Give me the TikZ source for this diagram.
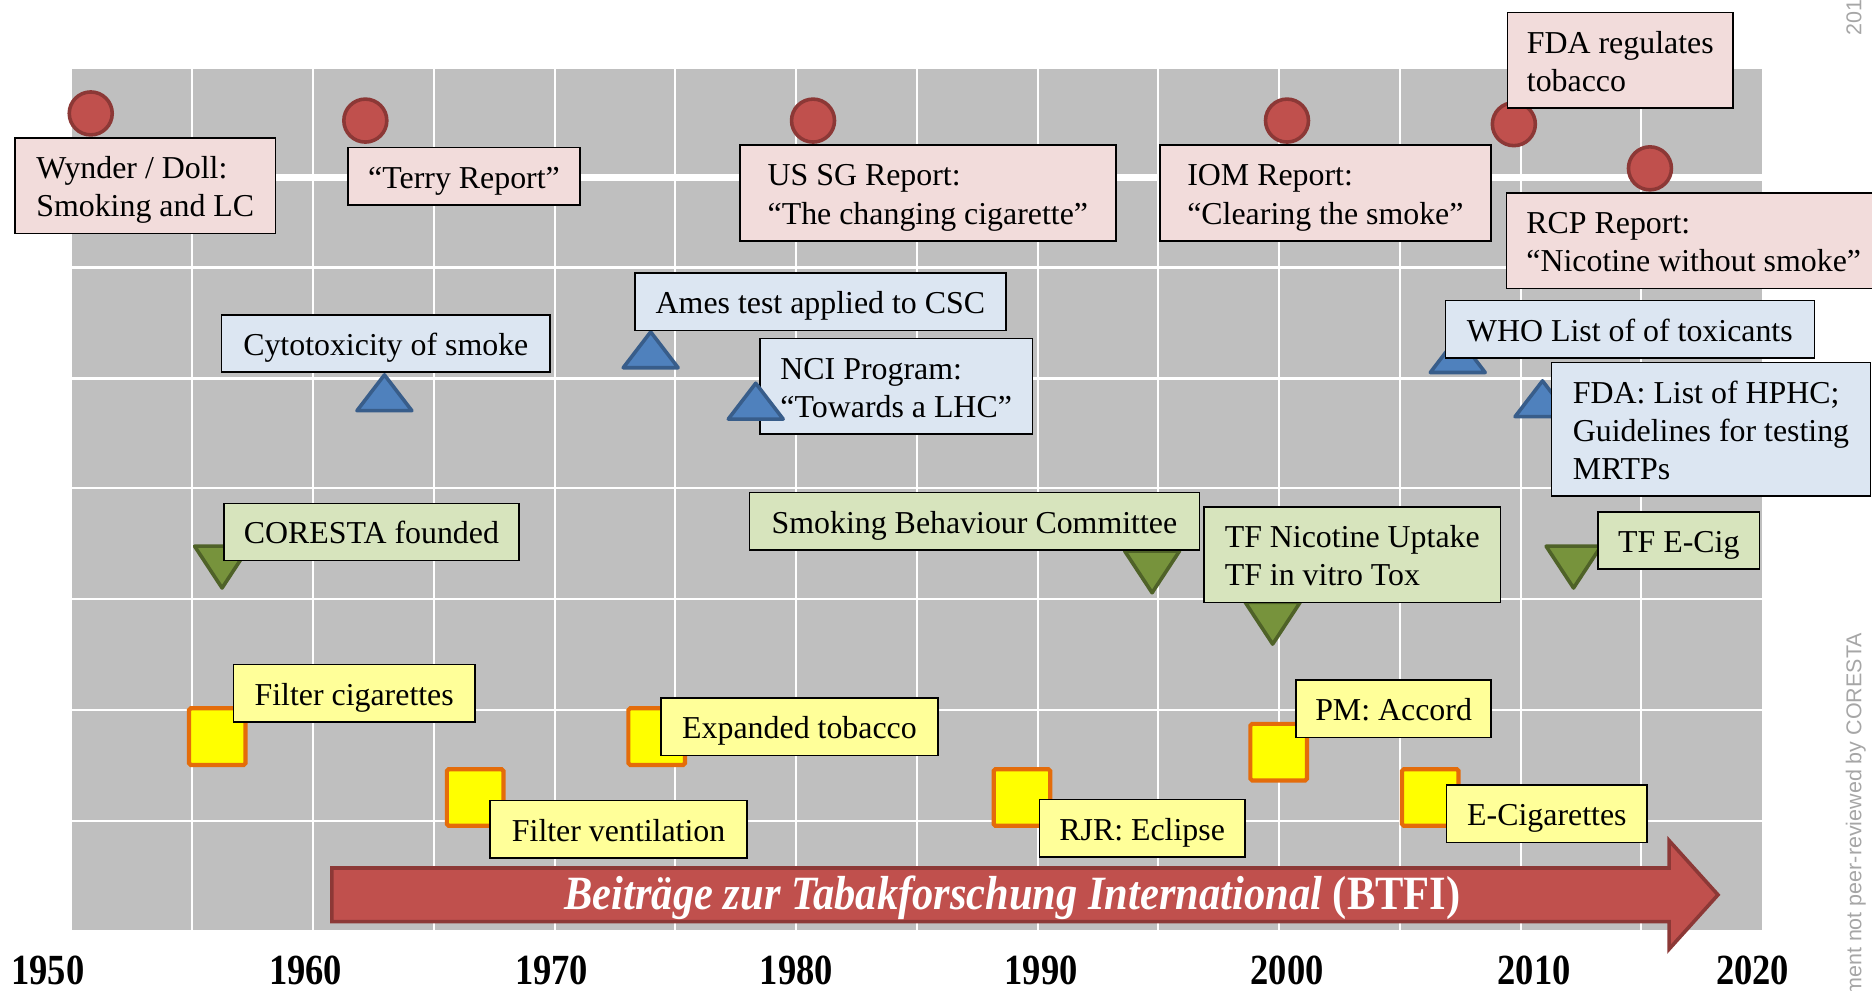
\documentclass[tikz,border=0pt]{standalone}
\usepackage{graphicx}
\usepackage{fontspec}
\setmainfont{Liberation Serif}
\newfontfamily\notefont{Liberation Sans}
\definecolor{panelgray}{HTML}{BFBFBF}
\definecolor{pinkfill}{HTML}{F2DCDB}
\definecolor{bluefill}{HTML}{DCE6F2}
\definecolor{greenfill}{HTML}{D7E4BD}
\definecolor{yellowfill}{HTML}{FFFF99}
\definecolor{redfill}{HTML}{C0504D}
\definecolor{reddraw}{HTML}{8C3836}
\definecolor{bluetrifill}{HTML}{4F81BD}
\definecolor{bluetridraw}{HTML}{385D8A}
\definecolor{greentrifill}{HTML}{77933C}
\definecolor{greentridraw}{HTML}{4F6228}
\definecolor{sqfill}{HTML}{FFFF00}
\definecolor{sqdraw}{HTML}{E46C0A}
\definecolor{notegray}{HTML}{A6A6A6}
\newcommand\bxs{\rule[-6pt]{0pt}{32pt}}
\tikzset{
  evbox/.style={draw=black, line width=1.3pt, inner xsep=16pt, inner ysep=8pt,
    anchor=north west, align=left, font=\fontsize{26.7}{32}\selectfont},
  pinkbox/.style={evbox, fill=pinkfill},
  bluebox/.style={evbox, fill=bluefill},
  greenbox/.style={evbox, fill=greenfill},
  yellowbox/.style={evbox, fill=yellowfill},
  gridline/.style={white, line width=1.8pt},
  circmark/.style={draw=reddraw, fill=redfill, line width=3pt},
  btrimark/.style={draw=bluetridraw, fill=bluetrifill, line width=3pt, line join=round},
  gtrimark/.style={draw=greentridraw, fill=greentrifill, line width=3pt, line join=round},
  sqmark/.style={draw=sqdraw, fill=sqfill, line width=3.5pt, rounded corners=1.5pt},
  yearlabel/.style={font=\fontsize{36}{40}\selectfont\bfseries, anchor=base, inner sep=0pt},
  notetext/.style={font=\notefont\fontsize{18}{20}\selectfont, text=notegray, rotate=90, inner sep=0pt},
}
\newcommand\mkCirc[2]{\draw[circmark] (#1,#2) circle[radius=18];}
\newcommand\mkBtri[2]{\draw[btrimark, shift={(#1,#2)}] (-23,15) -- (0,-15) -- (23,15) -- cycle;}
\newcommand\mkGtri[2]{\draw[gtrimark, shift={(#1,#2)}] (-23,-17.5) -- (23,-17.5) -- (0,17.5) -- cycle;}
\newcommand\mkSq[2]{\draw[sqmark, shift={(#1,#2)}] (-23.7,-23.7) rectangle (23.7,23.7);}
\begin{document}
\begin{tikzpicture}[x=1pt, y=-1pt]
\useasboundingbox (0,0) rectangle (1568,830);
% panel and grid
\fill[panelgray] (60,58) rectangle (1476,779);
\foreach \i in {1,...,13} \draw[gridline] ({60+101.14*\i},58) -- ({60+101.14*\i},779);
\foreach \yy in {224,317,409,502,595,688} \draw[gridline] (60,\yy) -- (1476,\yy);
\draw[white, line width=6pt] (60,149) -- (1476,149);

% BTFI arrow
\draw[reddraw, fill=redfill, line width=3pt, line join=miter]
  (278,727) -- (1398,727) -- (1398,704) -- (1439,749.5) -- (1398,795) -- (1398,772) -- (278,772) -- cycle;
\node[anchor=base, inner sep=0pt, text=white] (btfi) at (848,762)
  {\scalebox{0.89}[1]{\fontsize{40}{44}\selectfont\bfseries\itshape Beiträge zur Tabakforschung International \upshape(BTFI)}};

% markers
\mkCirc{76}{95}
\mkCirc{306}{101}
\mkCirc{681}{101}
\mkCirc{1078}{101}
\mkCirc{1268}{104}
\mkCirc{1382}{141}

\mkBtri{322}{329}
\mkBtri{545}{293}
\mkBtri{1221}{297}
\mkBtri{1292}{334}

\mkGtri{186}{475}
\mkGtri{965}{479}
\mkGtri{1066}{522}
\mkGtri{1318}{475}

\mkSq{182}{617}
\mkSq{398}{668}
\mkSq{550}{617}
\mkSq{856}{668}
\mkSq{1071}{630}
\mkSq{1198}{668}

% pink boxes
\node[pinkbox, minimum width=218pt, minimum height=80pt] (wynder) at (12,115) {\bxs Wynder / Doll:\\\bxs Smoking and LC};
\node[pinkbox, minimum width=194pt, minimum height=48pt] (terry) at (291,123) {\bxs “Terry Report”};
\node[pinkbox, minimum width=315pt, minimum height=80pt] (ussg) at (619,121) {\bxs US SG Report:\\\bxs “The changing cigarette”};
\node[pinkbox, minimum width=277pt, minimum height=80pt] (iom) at (971,121) {\bxs IOM Report:\\\bxs “Clearing the smoke”};
\node[pinkbox, minimum width=189pt, minimum height=80pt] (fdareg) at (1262,10) {\bxs FDA regulates\\\bxs tobacco};
\node[pinkbox, minimum width=314pt, minimum height=80pt] (rcp) at (1261,161) {\bxs RCP Report:\\\bxs “Nicotine without smoke”};

% blue boxes
\node[bluebox, minimum width=275pt, minimum height=48pt] (cyto) at (185,263) {\bxs Cytotoxicity of smoke};
\node[bluebox, minimum width=311pt, minimum height=47pt] (ames) at (531,228) {\bxs Ames test applied to CSC};
\node[bluebox, minimum width=228pt, minimum height=80pt] (nci) at (636,283) {\bxs NCI Program:\\\bxs “Towards a LHC”};
\node[bluebox, minimum width=309pt, minimum height=47pt] (who) at (1210,251) {\bxs WHO List of of toxicants};
\node[bluebox, minimum width=267pt, minimum height=112pt] (fdalist) at (1299,303) {\bxs FDA: List of HPHC;\\\bxs Guidelines for testing\\\bxs MRTPs};

% green boxes
\node[greenbox, minimum width=247pt, minimum height=47pt] (coresta) at (187,421) {\bxs CORESTA founded};
\node[greenbox, minimum width=377pt, minimum height=48pt] (sbc) at (627,412) {\bxs Smoking Behaviour Committee};
\node[greenbox, minimum width=248pt, minimum height=79pt] (tf) at (1008,424) {\bxs TF Nicotine Uptake\\\bxs TF in vitro Tox};
\node[greenbox, minimum width=135pt, minimum height=48pt] (tfecig) at (1338,428) {\bxs TF E-Cig};

% yellow boxes
\node[yellowbox, minimum width=202pt, minimum height=47pt] (filtcig) at (195,556) {\bxs Filter cigarettes};
\node[yellowbox, minimum width=215pt, minimum height=47pt] (filtvent) at (410,670) {\bxs Filter ventilation};
\node[yellowbox, minimum width=232pt, minimum height=47pt] (exptob) at (553,584) {\bxs Expanded tobacco};
\node[yellowbox, minimum width=172pt, minimum height=47pt] (rjr) at (870,669) {\bxs RJR: Eclipse};
\node[yellowbox, minimum width=163pt, minimum height=48pt] (pm) at (1085,569) {\bxs PM: Accord};
\node[yellowbox, minimum width=168pt, minimum height=48pt] (ecig) at (1211,657) {\bxs E-Cigarettes};

% triangle drawn over the NCI box
\mkBtri{633}{336}

% year axis
\node[yearlabel] (y1950) at (40,825) {\scalebox{0.85}[1]{1950}};
\node[yearlabel] (y1960) at (256,825) {\scalebox{0.85}[1]{1960}};
\node[yearlabel] (y1970) at (462,825) {\scalebox{0.85}[1]{1970}};
\node[yearlabel] (y1980) at (667,825) {\scalebox{0.85}[1]{1980}};
\node[yearlabel] (y1990) at (872,825) {\scalebox{0.85}[1]{1990}};
\node[yearlabel] (y2000) at (1078,825) {\scalebox{0.85}[1]{2000}};
\node[yearlabel] (y2010) at (1285,825) {\scalebox{0.85}[1]{2010}};
\node[yearlabel] (y2020) at (1468,825) {\scalebox{0.85}[1]{2020}};

% side notes
\node[notetext, anchor=base east] (note) at (1559,530) {ment not peer-reviewed by CORESTA};
\node[notetext, anchor=base west] (noteyear) at (1559,30) {201};
\end{tikzpicture}
\end{document}
